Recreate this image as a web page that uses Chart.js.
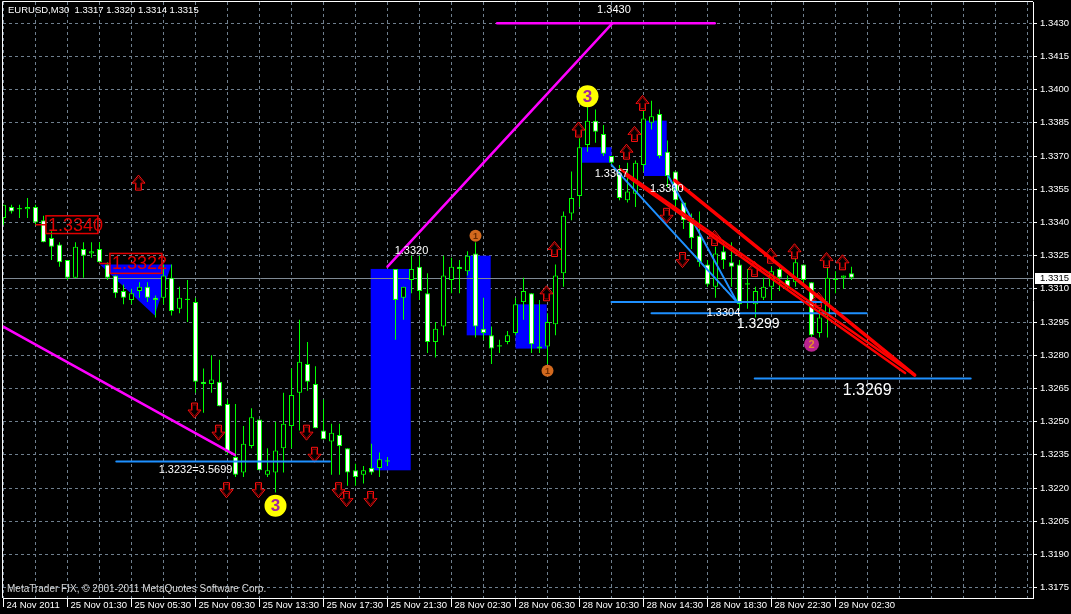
<!DOCTYPE html>
<html>
<head>
<meta charset="utf-8">
<script src="https://cdn.jsdelivr.net/npm/chart.js@4.4.1/dist/chart.umd.min.js"></script>
<style>
  html, body { margin: 0; padding: 0; background: #000; }
  canvas { display: block; }
</style>
</head>
<body>
<canvas id="chart" width="1071" height="614"></canvas>
<script>
const symbolTitle = 'EURUSD,M30';
const footerText = 'MetaTrader FIX, \u00a9 2001-2011 MetaQuotes Software Corp.';

// M30 bars, oldest first (24 Nov 21:30 ... 29 Nov 04:30)
const opens = [
  1.3342, 1.3347, 1.3346, 1.3346, 1.3347, 1.3341, 1.3333, 1.3330, 1.3323, 1.3315,
  1.3328, 1.3326, 1.3328, 1.3321, 1.3316, 1.3309, 1.3305, 1.3309, 1.3311, 1.3306,
  1.3306, 1.3315, 1.3301, 1.3305, 1.3304, 1.3268, 1.3267, 1.3268, 1.3258, 1.3234,
  1.3227, 1.3239, 1.3251, 1.3226, 1.3227, 1.3238, 1.3248, 1.3263, 1.3276, 1.3267,
  1.3246, 1.3241, 1.3244, 1.3238, 1.3228, 1.3226, 1.3229, 1.3229, 1.3232, 1.3319,
  1.3306, 1.3314, 1.3320, 1.3308, 1.3286, 1.3293, 1.3314, 1.3320, 1.3318, 1.3326,
  1.3292, 1.3289, 1.3284, 1.3286, 1.3290, 1.3304, 1.3308, 1.3284, 1.3284, 1.3294,
  1.3317, 1.3344, 1.3352, 1.3375, 1.3386, 1.3380, 1.3370, 1.3362, 1.3350, 1.3353,
  1.3366, 1.3385, 1.3389, 1.3372, 1.3363, 1.3349, 1.3342, 1.3334, 1.3321, 1.3311,
  1.3327, 1.3322, 1.3321, 1.3312, 1.3303, 1.3306, 1.3311, 1.3319, 1.3314, 1.3313,
  1.3321, 1.3313, 1.3290, 1.3298, 1.3314, 1.3315, 1.3317
];
const highs = [
  1.3348, 1.3348, 1.3348, 1.3351, 1.3348, 1.3343, 1.3336, 1.3331, 1.3323, 1.3331,
  1.3331, 1.3331, 1.3331, 1.3322, 1.3316, 1.3312, 1.3310, 1.3313, 1.3313, 1.3307,
  1.3321, 1.3321, 1.3311, 1.3314, 1.3306, 1.3274, 1.3280, 1.3278, 1.3260, 1.3258,
  1.3248, 1.3256, 1.3251, 1.3238, 1.3250, 1.3263, 1.3274, 1.3296, 1.3286, 1.3275,
  1.3260, 1.3249, 1.3249, 1.3238, 1.3231, 1.3230, 1.3240, 1.3236, 1.3234, 1.3319,
  1.3311, 1.3325, 1.3325, 1.3317, 1.3295, 1.3325, 1.3324, 1.3323, 1.3327, 1.3331,
  1.3306, 1.3293, 1.3287, 1.3291, 1.3306, 1.3315, 1.3308, 1.3305, 1.3299, 1.3321,
  1.3345, 1.3363, 1.3378, 1.3393, 1.3391, 1.3384, 1.3370, 1.3366, 1.3367, 1.3368,
  1.3395, 1.3395, 1.3391, 1.3377, 1.3363, 1.3349, 1.3344, 1.3345, 1.3323, 1.3329,
  1.3332, 1.3331, 1.3323, 1.3319, 1.3311, 1.3315, 1.3320, 1.3321, 1.3316, 1.3324,
  1.3321, 1.3313, 1.3301, 1.3320, 1.3318, 1.3316, 1.3320
];
const lows = [
  1.3339, 1.3344, 1.3342, 1.3342, 1.3339, 1.3331, 1.3323, 1.3320, 1.3314, 1.3315,
  1.3315, 1.3324, 1.3322, 1.3314, 1.3306, 1.3303, 1.3303, 1.3306, 1.3304, 1.3297,
  1.3303, 1.3298, 1.3299, 1.3295, 1.3263, 1.3254, 1.3263, 1.3257, 1.3235, 1.3225,
  1.3225, 1.3238, 1.3228, 1.3225, 1.3218, 1.3227, 1.3238, 1.3246, 1.3264, 1.3247,
  1.3242, 1.3226, 1.3226, 1.3221, 1.3221, 1.3222, 1.3226, 1.3225, 1.3230, 1.3287,
  1.3296, 1.3308, 1.3305, 1.3281, 1.3279, 1.3289, 1.3308, 1.3308, 1.3316, 1.3288,
  1.3287, 1.3276, 1.3281, 1.3285, 1.3289, 1.3296, 1.3281, 1.3281, 1.3276, 1.3289,
  1.3311, 1.3341, 1.3347, 1.3372, 1.3376, 1.3370, 1.3366, 1.3350, 1.3349, 1.3347,
  1.3363, 1.3382, 1.3369, 1.3356, 1.3347, 1.3337, 1.3328, 1.3320, 1.3311, 1.3306,
  1.3319, 1.3311, 1.3301, 1.3301, 1.3297, 1.3305, 1.3305, 1.3309, 1.3310, 1.3311,
  1.3311, 1.3288, 1.3288, 1.3288, 1.3308, 1.3310, 1.3314
];
const closes = [
  1.3348, 1.3345, 1.3346, 1.3347, 1.3340, 1.3331, 1.3329, 1.3322, 1.3315, 1.3329,
  1.3325, 1.3327, 1.3322, 1.3315, 1.3308, 1.3306, 1.3308, 1.3311, 1.3306, 1.3305,
  1.3316, 1.3300, 1.3306, 1.3305, 1.3268, 1.3267, 1.3269, 1.3257, 1.3236, 1.3226,
  1.3240, 1.3252, 1.3228, 1.3228, 1.3237, 1.3249, 1.3262, 1.3277, 1.3268, 1.3247,
  1.3242, 1.3245, 1.3239, 1.3227, 1.3225, 1.3228, 1.3227, 1.3233, 1.3232, 1.3305,
  1.3311, 1.3319, 1.3309, 1.3286, 1.3292, 1.3316, 1.3320, 1.3319, 1.3325, 1.3293,
  1.3290, 1.3283, 1.3284, 1.3289, 1.3303, 1.3309, 1.3285, 1.3283, 1.3295, 1.3316,
  1.3343, 1.3351, 1.3374, 1.3386, 1.3381, 1.3371, 1.3367, 1.3351, 1.3354, 1.3367,
  1.3387, 1.3388, 1.3370, 1.3361, 1.3350, 1.3341, 1.3333, 1.3322, 1.3312, 1.3326,
  1.3323, 1.3320, 1.3303, 1.3312, 1.3309, 1.3311, 1.3318, 1.3315, 1.3311, 1.3322,
  1.3314, 1.3289, 1.3297, 1.3315, 1.3314, 1.3316, 1.3315
];

// time axis: one label every 8 bars, starting at bar 0
const timeLabels = [
  '24 Nov 2011', '25 Nov 01:30', '25 Nov 05:30', '25 Nov 09:30', '25 Nov 13:30',
  '25 Nov 17:30', '25 Nov 21:30', '28 Nov 02:30', '28 Nov 06:30', '28 Nov 10:30',
  '28 Nov 14:30', '28 Nov 18:30', '28 Nov 22:30', '29 Nov 02:30'
];
const priceTicks = [
  1.3175, 1.3190, 1.3205, 1.3220, 1.3235, 1.3250, 1.3265, 1.3280, 1.3295,
  1.3310, 1.3325, 1.3340, 1.3355, 1.3370, 1.3385, 1.3400, 1.3415, 1.3430
];

// chart objects, in [bar, price] terms
const blueBoxes = [
  [45.9, 50.9, 1.3319, 1.3228],
  [57.9, 60.9, 1.3325, 1.3289],
  [64.0, 67.9, 1.3303, 1.3283],
  [72.3, 76.0, 1.3374, 1.3367],
  [80.06, 82.9, 1.3386, 1.3361]
];
const blueTriangle = [[12.06, 1.3321], [21.0, 1.3321], [18.9, 1.3298]];
const magentaLines = [
  [-0.1, 1.3293, 28.9, 1.3235],
  [48.0, 1.3320, 76.1, 1.3430],
  [61.7, 1.3430, 88.9, 1.3430]
];
const blueLines = [
  [14.1, 1.3232, 40.8, 1.3232],
  [76.0, 1.3304, 102.9, 1.3304],
  [81.0, 1.3299, 107.9, 1.3299],
  [93.9, 1.32695, 120.9, 1.32695],
  [76.0, 1.3366, 91.7, 1.3304],
  [83.1, 1.3361, 91.7, 1.3304]
];
const redLines = [
  [83.9, 1.3359, 113.9, 1.3271],
  [77.1, 1.3364, 113.9, 1.3271],
  [77.9, 1.3361, 112.7, 1.3272]
];
const upArrows = [
  [17, 1.3358], [68, 1.3308], [69, 1.3328], [72, 1.3382], [78, 1.3372], [79, 1.3380],
  [80, 1.3394], [89, 1.3333], [94, 1.3319], [96, 1.3325], [99, 1.3327], [102, 1.3305],
  [103, 1.3323], [105, 1.3322]
];
const downArrows = [
  [24, 1.3255], [27, 1.3245], [28, 1.3219], [32, 1.3219], [38, 1.3245], [39, 1.3235],
  [42, 1.3219], [43, 1.3215], [46, 1.3215], [83, 1.3343], [85, 1.3323]
];
const waveMarks = [
  ['1', 59, 1.3334], ['1', 68, 1.3273],
  ['3', 73, 1.3397], ['3', 34, 1.3212],
  ['2', 101, 1.3285]
];
const smallLabels = [
  ['1.3430', 74.2, 1.3436],
  ['1.3320', 48.9, 1.3327],
  ['1.3232=3.5699', 19.4, 1.3228],
  ['1.3367', 73.9, 1.3362],
  ['1.3360', 80.8, 1.3355],
  ['1.3304', 87.9, 1.3299]
];
const bigLabels = [
  ['1.3299', 91.65, 1.3294],
  ['1.3269', 104.9, 1.3264]
];
const levelBoxes = [
  ['1.3340', 5.3, 11.8, 1.3343, 1.3335, 4.06, 1.3339],
  ['1.3322', 13.3, 19.8, 1.3326, 1.3317, 12.06, 1.33215]
];

const lastIdx = closes.length - 1;
const bodyData = opens.map((o, i) => ({ x: i, y: [Math.min(o, closes[i]), Math.max(o, closes[i])] }));
const wickData = opens.map((o, i) => ({ x: i, y: [lows[i], highs[i]] }));
const bodyFill = opens.map((o, i) => closes[i] > o ? '#000000' : (closes[i] < o ? '#ffffff' : '#00ff00'));
const bodyBorder = opens.map((o, i) => closes[i] === o ? 0 : 1);

const GRID = '#6f7f8e';

function drawArrow(ctx, cx, cy, dir) {
  // dir -1 = up, 1 = down
  const shape = (s) => {
    const tipY = cy + dir * 7.5 * s, baseY = cy - dir * 0.5 * s, endY = cy - dir * 7.5 * s;
    const hw = 6.5 * s, sw = 3 * s;
    ctx.beginPath();
    ctx.moveTo(cx, tipY);
    ctx.lineTo(cx + hw, baseY);
    ctx.lineTo(cx + sw, baseY);
    ctx.lineTo(cx + sw, endY);
    ctx.lineTo(cx - sw, endY);
    ctx.lineTo(cx - sw, baseY);
    ctx.lineTo(cx - hw, baseY);
    ctx.closePath();
  };
  ctx.lineWidth = 1;
  shape(1);
  ctx.fillStyle = '#000';
  ctx.fill();
  ctx.strokeStyle = '#ff1010';
  ctx.stroke();
  shape(0.75);
  ctx.strokeStyle = '#9a0000';
  ctx.stroke();
}

function segment(ctx, xs, ys, l) {
  ctx.beginPath();
  ctx.moveTo(xs.getPixelForValue(l[0]), ys.getPixelForValue(l[1]));
  ctx.lineTo(xs.getPixelForValue(l[2]), ys.getPixelForValue(l[3]));
  ctx.stroke();
}

const overlay = {
  id: 'overlay',
  beforeDatasetsDraw(chart) {
    const { ctx, chartArea: a, scales: { x, y } } = chart;
    ctx.save();
    ctx.beginPath();
    ctx.rect(a.left, a.top, a.right - a.left, a.bottom - a.top);
    ctx.clip();
    ctx.fillStyle = '#0000ff';
    blueBoxes.forEach(([b0, b1, pTop, pBot]) => {
      const x0 = x.getPixelForValue(b0), x1 = x.getPixelForValue(b1);
      const y0 = y.getPixelForValue(pTop), y1 = y.getPixelForValue(pBot);
      ctx.fillRect(x0, y0, x1 - x0, y1 - y0);
    });
    ctx.beginPath();
    blueTriangle.forEach(([b, p], i) => {
      const px = x.getPixelForValue(b), py = y.getPixelForValue(p);
      if (i === 0) ctx.moveTo(px, py); else ctx.lineTo(px, py);
    });
    ctx.closePath();
    ctx.fill();

    const py = Math.round(y.getPixelForValue(closes[lastIdx])) + 0.5;
    ctx.strokeStyle = '#7f8a95';
    ctx.lineWidth = 1;
    ctx.beginPath();
    ctx.moveTo(a.left, py);
    ctx.lineTo(a.right, py);
    ctx.stroke();
    ctx.restore();
  },
  afterDatasetsDraw(chart) {
    const { ctx, chartArea: a, scales: { x, y } } = chart;
    ctx.save();
    ctx.beginPath();
    ctx.rect(a.left, a.top, a.right - a.left, a.bottom - a.top);
    ctx.clip();

    upArrows.forEach(([b, p]) => drawArrow(ctx, x.getPixelForValue(b) - 1, y.getPixelForValue(p), -1));
    downArrows.forEach(([b, p]) => drawArrow(ctx, x.getPixelForValue(b) - 1, y.getPixelForValue(p), 1));

    ctx.lineCap = 'round';
    ctx.strokeStyle = '#1e90ff';
    ctx.lineWidth = 2;
    blueLines.forEach(l => segment(ctx, x, y, l));

    ctx.strokeStyle = '#ff0000';
    redLines.forEach((l, i) => {
      ctx.lineWidth = i === 0 ? 3.5 : 2.5;
      segment(ctx, x, y, l);
    });

    ctx.strokeStyle = '#ff00ff';
    ctx.lineWidth = 2.5;
    magentaLines.forEach(l => segment(ctx, x, y, l));

    ctx.textBaseline = 'middle';
    ctx.textAlign = 'left';
    ctx.fillStyle = '#ffffff';
    ctx.font = '11px "Liberation Sans"';
    smallLabels.forEach(([t, b, p]) => ctx.fillText(t, x.getPixelForValue(b), y.getPixelForValue(p)));
    bigLabels.forEach(([t, b, p], i) => {
      ctx.font = (i === 0 ? 14 : 16) + 'px "Liberation Sans"';
      ctx.fillText(t, x.getPixelForValue(b), y.getPixelForValue(p));
    });

    levelBoxes.forEach(([t, b0, b1, pTop, pBot, lead, level]) => {
      const x0 = x.getPixelForValue(b0), x1 = x.getPixelForValue(b1);
      const y0 = y.getPixelForValue(pTop), y1 = y.getPixelForValue(pBot);
      const ly = y.getPixelForValue(level);
      ctx.strokeStyle = '#e00000';
      ctx.lineWidth = 1.5;
      ctx.strokeRect(x0, y0, x1 - x0, y1 - y0);
      ctx.beginPath();
      ctx.moveTo(x.getPixelForValue(lead), ly);
      ctx.lineTo(x0, ly);
      ctx.stroke();
      ctx.fillStyle = '#e00000';
      ctx.font = '18px "Liberation Sans"';
      ctx.fillText(t, x0 + 2, (y0 + y1) / 2 + 1);
    });

    waveMarks.forEach(([t, b, p]) => {
      const cx = x.getPixelForValue(b), cy = y.getPixelForValue(p);
      let r, fill, color, font;
      if (t === '3') { r = 11; fill = '#ffff00'; color = '#a020a0'; font = 'bold 17px "Liberation Sans"'; }
      else if (t === '2') { r = 7.5; fill = '#b8238f'; color = '#e8902a'; font = 'bold 11px "Liberation Sans"'; }
      else { r = 6; fill = '#d2691e'; color = '#6b2a00'; font = 'bold 9px "Liberation Sans"'; }
      ctx.beginPath();
      ctx.arc(cx, cy, r, 0, Math.PI * 2);
      ctx.fillStyle = fill;
      ctx.fill();
      ctx.fillStyle = color;
      ctx.font = font;
      ctx.textAlign = 'center';
      ctx.fillText(t, cx, cy + 1);
      ctx.textAlign = 'left';
    });
    ctx.restore();
  },
  afterDraw(chart) {
    const { ctx, chartArea: a, scales: { y } } = chart;
    ctx.save();
    ctx.strokeStyle = '#ffffff';
    ctx.lineWidth = 1;
    ctx.beginPath();
    ctx.moveTo(a.left - 0.5, a.bottom);
    ctx.lineTo(a.left - 0.5, a.top - 0.5);
    ctx.lineTo(a.right, a.top - 0.5);
    ctx.stroke();

    ctx.textBaseline = 'middle';
    ctx.textAlign = 'left';
    ctx.fillStyle = '#ffffff';
    ctx.font = '9.5px "Liberation Sans"';
    const head = [opens, highs, lows, closes].map(s => s[lastIdx].toFixed(4)).join(' ');
    ctx.fillText(symbolTitle + '  ' + head, a.left + 5, a.top + 8);

    ctx.font = '10px "Liberation Sans"';
    ctx.fillStyle = '#d8d8d8';
    ctx.fillText(footerText, a.left + 4, a.bottom - 9);

    const py = Math.round(y.getPixelForValue(closes[lastIdx]));
    ctx.fillStyle = '#ffffff';
    ctx.fillRect(a.right + 2, py - 5, 40, 11);
    ctx.fillStyle = '#000000';
    ctx.font = '9.5px "Liberation Sans"';
    ctx.fillText(closes[lastIdx].toFixed(4), a.right + 7, py + 0.5);
    ctx.restore();
  }
};

Chart.defaults.font.family = '"Liberation Sans", Arial, sans-serif';
Chart.defaults.color = '#ffffff';

new Chart(document.getElementById('chart'), {
  type: 'bar',
  data: {
    datasets: [
      {
        data: bodyData,
        backgroundColor: bodyFill,
        borderColor: '#00ff00',
        borderWidth: bodyBorder,
        borderSkipped: false,
        barThickness: 5,
        minBarLength: 1,
        inflateAmount: 0,
        grouped: false,
        order: 0
      },
      {
        data: wickData,
        backgroundColor: '#00ff00',
        borderWidth: 0,
        barThickness: 1,
        inflateAmount: 0,
        grouped: false,
        order: 1
      }
    ]
  },
  options: {
    responsive: false,
    animation: false,
    devicePixelRatio: 1,
    layout: { padding: { left: 3, top: 2, right: 0, bottom: 0 } },
    plugins: { legend: { display: false }, tooltip: { enabled: false } },
    scales: {
      x: {
        type: 'linear',
        min: -0.0625,
        max: 128.6875,
        offset: false,
        grid: {
          offset: false,
          color: GRID,
          drawTicks: true,
          tickLength: 9,
          tickColor: c => (c.tick && c.tick.value % 8 === 0 && c.tick.value / 8 < timeLabels.length) ? '#ffffff' : 'rgba(0,0,0,0)'
        },
        border: { display: true, color: '#ffffff', width: 1, dash: [3, 3] },
        ticks: {
          autoSkip: false,
          maxRotation: 0,
          align: 'start',
          padding: -7,
          labelOffset: 3,
          color: '#ffffff',
          font: { size: 9.5 },
          callback: v => (v % 8 === 0 && v / 8 < timeLabels.length) ? timeLabels[v / 8] : ''
        },
        afterBuildTicks: s => {
          const t = [];
          for (let v = 0; v <= 128; v += 4) t.push({ value: v });
          s.ticks = t;
        },
        afterFit: s => { s.height = 16; s.paddingLeft = 0; s.paddingRight = 0; }
      },
      y: {
        type: 'linear',
        position: 'right',
        min: 1.317030,
        max: 1.343962,
        beginAtZero: false,
        grid: { color: GRID, drawTicks: true, tickLength: 4, tickColor: '#ffffff' },
        border: { display: true, color: '#ffffff', width: 1, dash: [3, 3] },
        ticks: {
          autoSkip: false,
          padding: 3,
          color: '#ffffff',
          font: { size: 9.5 },
          callback: v => Number(v).toFixed(4)
        },
        afterBuildTicks: s => { s.ticks = priceTicks.map(v => ({ value: v })); },
        afterFit: s => { s.width = 38; s.paddingTop = 0; s.paddingBottom = 0; }
      }
    }
  },
  plugins: [overlay]
});
</script>
</body>
</html>
